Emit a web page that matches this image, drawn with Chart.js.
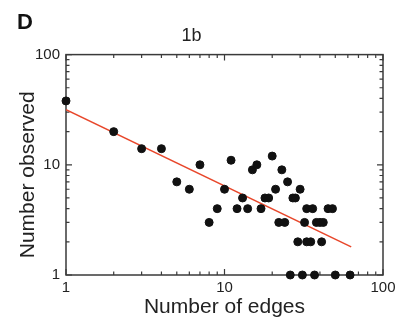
<!DOCTYPE html>
<html>
<head>
<meta charset="utf-8">
<script src="https://cdn.jsdelivr.net/npm/chart.js@4.4.1/dist/chart.umd.min.js"></script>
<style>
  html, body { margin: 0; padding: 0; background: #fff; }
</style>
</head>
<body>
<canvas id="chart" width="408" height="320"></canvas>
<script>
// observed counts per number of edges
const edges    = [1, 2, 3, 4, 5, 6, 7, 8, 9, 10, 11, 12, 13, 14, 15, 16, 17, 18, 19, 20,
                  21, 22, 23, 24, 25, 26, 27, 28, 29, 30, 31, 32, 33, 33, 35, 36, 37, 38, 40, 41,
                  42, 45, 48, 50, 62];
const observed = [38, 20, 14, 14, 7, 6, 10, 3, 4, 6, 11, 4, 5, 4, 9, 10, 4, 5, 5, 12,
                  6, 3, 9, 3, 7, 1, 5, 5, 2, 6, 1, 3, 4, 2, 2, 4, 1, 3, 3, 2,
                  3, 4, 4, 1, 1];

// power-law fit line endpoints
const fitEdges = [1, 63];
const fitObserved = [31.6, 1.8];

const xTickLabels = [1, 10, 100];
const yTickLabels = [1, 10, 100];

const FONT = '"Liberation Sans", Arial, Helvetica, sans-serif';
const AXIS_COLOR = '#3a3a3a';
const TEXT_COLOR = '#222';

// inward minor/major tick marks on all four sides + the box
const frameTicks = {
  id: 'frameTicks',
  beforeDatasetsDraw(chart) {
    const { ctx, chartArea: a, scales } = chart;
    ctx.save();
    ctx.strokeStyle = AXIS_COLOR;
    ctx.lineWidth = 1.5;
    ctx.strokeRect(a.left, a.top, a.right - a.left, a.bottom - a.top);
    ctx.lineWidth = 1.2;
    for (let dec = 1; dec <= 100; dec *= 10) {
      for (let m = 1; m <= 9; m++) {
        const v = dec * m;
        if (v > 100) break;
        const len = m === 1 ? 6 : 3.5;
        const px = scales.x.getPixelForValue(v);
        const py = scales.y.getPixelForValue(v);
        ctx.beginPath();
        ctx.moveTo(px, a.bottom); ctx.lineTo(px, a.bottom - len);
        ctx.moveTo(px, a.top);    ctx.lineTo(px, a.top + len);
        ctx.moveTo(a.left, py);   ctx.lineTo(a.left + len, py);
        ctx.moveTo(a.right, py);  ctx.lineTo(a.right - len, py);
        ctx.stroke();
      }
    }
    ctx.restore();
  },
  afterDraw(chart) {
    const { ctx, chartArea: a } = chart;
    ctx.save();
    ctx.fillStyle = '#111';
    ctx.font = 'bold 22px ' + FONT;
    ctx.textBaseline = 'alphabetic';
    ctx.fillText('D', 17, 29);

    // y axis title, sits a bit below the plot centre like the original
    ctx.fillStyle = TEXT_COLOR;
    ctx.font = '21px ' + FONT;
    ctx.textAlign = 'center';
    ctx.textBaseline = 'middle';
    ctx.translate(28, (a.top + a.bottom) / 2 + 10);
    ctx.rotate(-Math.PI / 2);
    ctx.fillText('Number observed', 0, 0);
    ctx.restore();
  }
};

const ctx = document.getElementById('chart').getContext('2d');

new Chart(ctx, {
  type: 'scatter',
  data: {
    datasets: [
      {
        label: 'fit',
        type: 'line',
        data: fitEdges.map((x, i) => ({ x, y: fitObserved[i] })),
        borderColor: '#e8472b',
        borderWidth: 1.6,
        pointRadius: 0,
        fill: false,
        order: 2,
      },
      {
        label: 'observed',
        data: edges.map((x, i) => ({ x, y: observed[i] })),
        backgroundColor: '#111',
        borderColor: '#111',
        pointRadius: 4,
        pointHoverRadius: 4,
        clip: false,
        order: 1,
      },
    ],
  },
  options: {
    responsive: false,
    animation: false,
    layout: { padding: { left: 0, right: 25, top: 0, bottom: 0 } },
    plugins: {
      legend: { display: false },
      tooltip: { enabled: false },
      title: {
        display: true,
        text: '1b',
        color: TEXT_COLOR,
        font: { family: FONT, size: 18, weight: 'normal', lineHeight: 1.2 },
        padding: { top: 25, bottom: 8 },
      },
    },
    scales: {
      x: {
        type: 'logarithmic',
        min: 1,
        max: 100,
        grid: { display: false, drawTicks: false },
        border: { display: false },
        afterBuildTicks: (s) => { s.ticks = xTickLabels.map(v => ({ value: v })); },
        afterFit: (s) => { s.height = 45; },
        ticks: {
          color: TEXT_COLOR,
          font: { family: FONT, size: 15 },
          padding: 4,
          maxRotation: 0,
          callback: (v) => String(v),
        },
        title: {
          display: true,
          text: 'Number of edges',
          color: TEXT_COLOR,
          font: { family: FONT, size: 21, lineHeight: 1.2 },
          padding: { top: 0, bottom: 0 },
        },
      },
      y: {
        type: 'logarithmic',
        min: 1,
        max: 100,
        grid: { display: false, drawTicks: false },
        border: { display: false },
        afterBuildTicks: (s) => { s.ticks = yTickLabels.map(v => ({ value: v })); },
        afterFit: (s) => { s.width = 66; },
        ticks: {
          color: TEXT_COLOR,
          font: { family: FONT, size: 15 },
          padding: 6,
          callback: (v) => String(v),
        },
        title: { display: false },
      },
    },
  },
  plugins: [frameTicks],
});
</script>
</body>
</html>
